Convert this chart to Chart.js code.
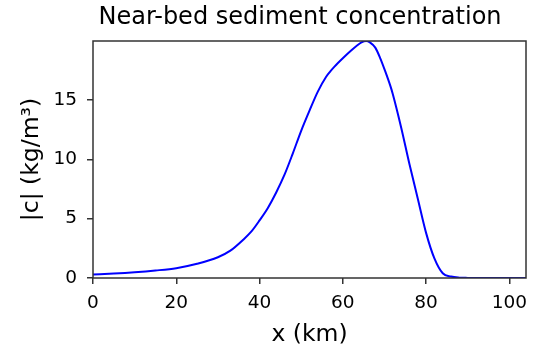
<!DOCTYPE html>
<html>
<head>
    <title>Near-bed sediment concentration</title>
    <script src="https://cdn.jsdelivr.net/npm/chart.js"></script>
    <style>
        html, body { margin: 0; padding: 0; background: #ffffff; }
        #wrap { width: 538px; height: 349px; position: relative; }
    </style>
</head>
<body>
<div id="wrap"><canvas id="concChart" width="538" height="349"></canvas></div>

<script>
    // distance along the channel (km) and near-bed concentration |c| (kg/m^3)
    const xKm  = [0, 5, 10, 15, 20, 25, 30, 33, 36, 38, 40, 42, 44, 46, 48, 50, 52, 54, 56, 57, 58, 60, 62, 63.5, 64.5, 65.6, 66.5, 67.8, 69, 70.2, 71.4, 72, 74, 76, 78, 80, 82, 84, 86, 88, 90, 95, 104];
    const conc = [0.29, 0.37, 0.48, 0.63, 0.83, 1.2, 1.75, 2.3, 3.2, 3.9, 4.85, 5.9, 7.2, 8.7, 10.5, 12.4, 14.1, 15.7, 16.95, 17.4, 17.8, 18.5, 19.15, 19.6, 19.85, 19.96, 19.85, 19.4, 18.5, 17.4, 16.2, 15.5, 12.7, 9.6, 6.7, 3.8, 1.65, 0.4, 0.12, 0.03, 0.01, 0, 0];

    const xTicks = [0, 20, 40, 60, 80, 100];
    const yTicks = [0, 5, 10, 15];
    const xMax = 104;

    const FONT = "'DejaVu Sans', sans-serif";
    const AXIS_COLOR = '#333333';

    // matplotlib-style closed frame round the plot area, plus the title
    const framePlugin = {
        id: 'frame',
        afterDraw(chart) {
            const {ctx, chartArea: a} = chart;
            ctx.save();
            ctx.strokeStyle = AXIS_COLOR;
            ctx.lineWidth = 1.5;
            ctx.strokeRect(a.left, a.top, a.right - a.left, a.bottom - a.top);
            ctx.fillStyle = '#000';
            ctx.font = "24px " + FONT;
            ctx.textAlign = 'center';
            ctx.textBaseline = 'middle';
            ctx.fillText('Near-bed sediment concentration', 300, 18);
            ctx.restore();
        }
    };

    new Chart(document.getElementById('concChart'), {
        type: 'line',
        data: {
            datasets: [{
                data: xKm.map((x, i) => ({x: x, y: conc[i]})),
                borderColor: '#0000ff',
                borderWidth: 2,
                pointRadius: 0,
                cubicInterpolationMode: 'monotone',
                fill: false
            }]
        },
        options: {
            responsive: false,
            animation: false,
            layout: { padding: { top: 41, right: 12, left: 0, bottom: 0 } },
            plugins: { legend: { display: false }, tooltip: { enabled: false } },
            scales: {
                x: {
                    type: 'linear',
                    min: 0,
                    max: xMax,
                    afterBuildTicks: s => { s.ticks = xTicks.map(v => ({value: v})); },
                    afterFit: s => { s.height = 71; },
                    border: { display: false },
                    grid: { drawOnChartArea: false, drawTicks: true, tickLength: 6, color: AXIS_COLOR, lineWidth: 1.5 },
                    ticks: { color: '#000', padding: 8, maxRotation: 0, font: { family: FONT, size: 18.5 } },
                    title: { display: true, text: 'x (km)', color: '#000', padding: { top: 0, bottom: 0 }, font: { family: FONT, size: 23.5 } }
                },
                y: {
                    min: 0,
                    max: Math.max(...conc),
                    afterBuildTicks: s => { s.ticks = yTicks.map(v => ({value: v})); },
                    afterFit: s => { s.width = 93; },
                    border: { display: false },
                    grid: { drawOnChartArea: false, drawTicks: true, tickLength: 6, color: AXIS_COLOR, lineWidth: 1.5 },
                    ticks: { color: '#000', padding: 10, font: { family: FONT, size: 18.5 } },
                    title: { display: true, text: '|c| (kg/m³)', color: '#000', padding: { top: 18, bottom: 0 }, font: { family: FONT, size: 23.5 } }
                }
            }
        },
        plugins: [framePlugin]
    });
</script>
</body>
</html>
